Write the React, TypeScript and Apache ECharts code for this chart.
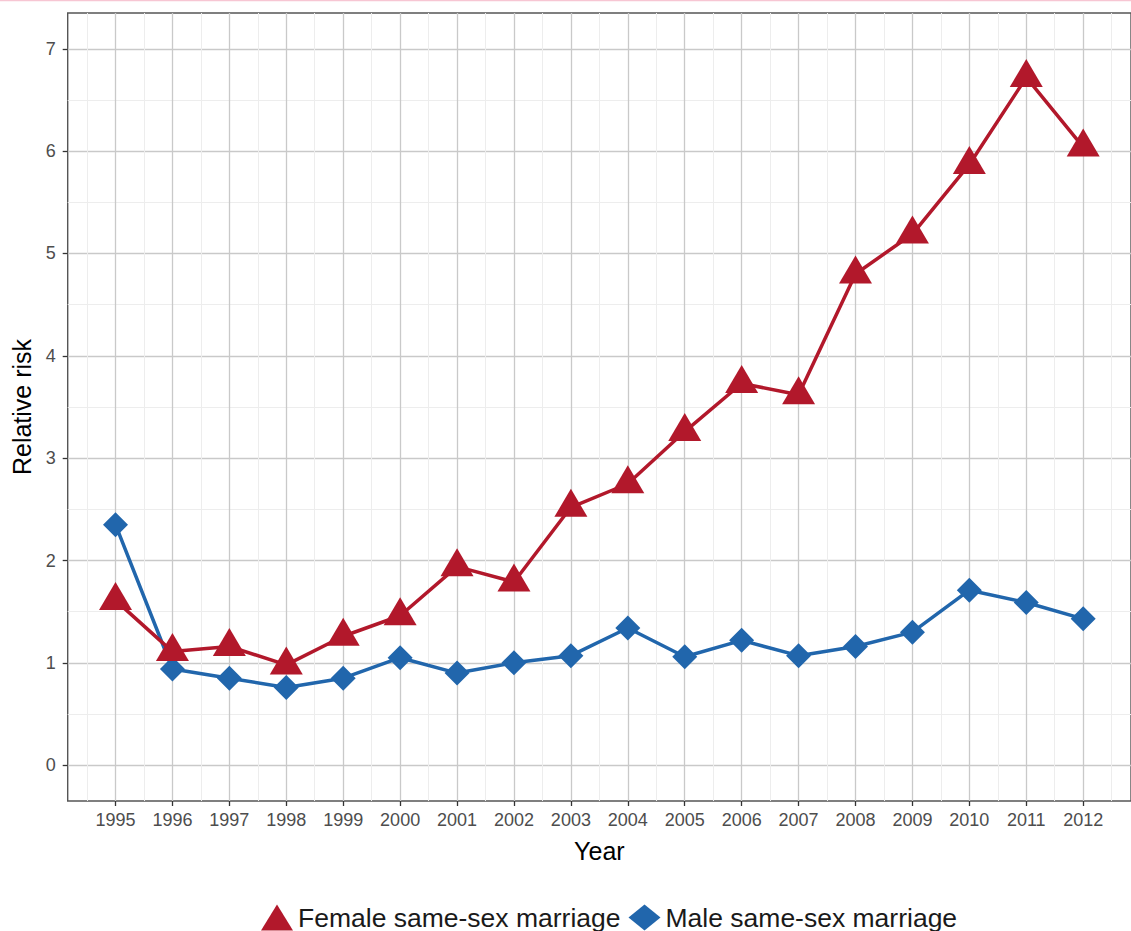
import React, { useEffect, useRef } from "react";
import * as echarts from "echarts";

const years = [1995, 1996, 1997, 1998, 1999, 2000, 2001, 2002, 2003, 2004, 2005, 2006, 2007, 2008, 2009, 2010, 2011, 2012];
const femaleRisk = [1.61, 1.11, 1.16, 0.98, 1.26, 1.46, 1.94, 1.79, 2.52, 2.75, 3.26, 3.73, 3.62, 4.8, 5.19, 5.87, 6.72, 6.04];
const maleRisk = [2.35, 0.94, 0.85, 0.76, 0.85, 1.05, 0.9, 1.0, 1.07, 1.34, 1.06, 1.22, 1.07, 1.16, 1.3, 1.71, 1.59, 1.43];
const yTicks = [0, 1, 2, 3, 4, 5, 6, 7];
const yMinorTicks = [0.5, 1.5, 2.5, 3.5, 4.5, 5.5, 6.5];
const xMinorTicks = [1994.5, 1995.5, 1996.5, 1997.5, 1998.5, 1999.5, 2000.5, 2001.5, 2002.5, 2003.5, 2004.5, 2005.5, 2006.5, 2007.5, 2008.5, 2009.5, 2010.5, 2011.5, 2012.5];
const femaleName = "Female same-sex marriage";
const maleName = "Male same-sex marriage";

const X_MIN = 1994.16;
const X_MAX = 2012.84;
const Y_MIN = -0.35;
const Y_MAX = 7.35;

export default function App() {
  const ref = useRef<HTMLDivElement>(null);
  useEffect(() => {
    const chart = echarts.init(ref.current!, null, { renderer: "svg" });
    const font = "'Liberation Sans', Arial, Helvetica, sans-serif";
    const major = "#c9c9c9";
    const minor = "#ededed";
    chart.setOption({
      animation: false,
      backgroundColor: "#ffffff",
      textStyle: { fontFamily: font },
      graphic: [
        {
          type: "line",
          shape: { x1: 0, y1: 0.5, x2: 1131, y2: 0.5 },
          style: { stroke: "#f7c6d3", lineWidth: 1.5 },
          silent: true,
        },
      ],
      grid: {
        left: 67.7,
        top: 13,
        width: 1072,
        height: 788,
        show: true,
        borderColor: "#555555",
        borderWidth: 1.4,
        backgroundColor: "transparent",
      },
      legend: {
        data: [
          { name: femaleName, icon: "triangle" },
          { name: maleName, icon: "diamond" },
        ],
        left: 256,
        top: 899,
        itemWidth: 32,
        itemHeight: 26,
        itemGap: 8,
        textStyle: { fontSize: 26.5, color: "#1a1a1a", fontFamily: font },
      },
      xAxis: [
        {
          type: "value",
          min: X_MIN,
          max: X_MAX,
          position: "bottom",
          name: "Year",
          nameLocation: "middle",
          nameGap: 37,
          nameTextStyle: { fontSize: 25, color: "#000000", fontFamily: font },
          axisLine: { show: false, onZero: false },
          axisTick: { show: true, customValues: years, length: 5, lineStyle: { color: "#333333", width: 1.3 } },
          axisLabel: {
            customValues: years,
            formatter: (v: number) => String(Math.round(v)),
            fontSize: 18,
            color: "#4d4d4d",
            margin: 10,
            fontFamily: font,
          },
          splitLine: { show: true, lineStyle: { color: major, width: 1.3 } },
        },
        {
          type: "value",
          min: X_MIN,
          max: X_MAX,
          position: "top",
          axisLine: { show: false, onZero: false },
          axisTick: { show: false, customValues: xMinorTicks },
          axisLabel: { show: false },
          splitLine: { show: true, lineStyle: { color: minor, width: 1 } },
        },
      ],
      yAxis: [
        {
          type: "value",
          min: Y_MIN,
          max: Y_MAX,
          position: "left",
          name: "Relative risk",
          nameLocation: "middle",
          nameGap: 33,
          nameRotate: 90,
          nameTextStyle: { fontSize: 25, color: "#000000", fontFamily: font },
          axisLine: { show: false, onZero: false },
          axisTick: { show: true, customValues: yTicks, length: 5, lineStyle: { color: "#333333", width: 1.3 } },
          axisLabel: {
            customValues: yTicks,
            formatter: (v: number) => String(Math.round(v)),
            fontSize: 18,
            color: "#4d4d4d",
            margin: 12,
            fontFamily: font,
          },
          splitLine: { show: true, lineStyle: { color: major, width: 1.3 } },
        },
        {
          type: "value",
          min: Y_MIN,
          max: Y_MAX,
          position: "right",
          axisLine: { show: false, onZero: false },
          axisTick: { show: false, customValues: yMinorTicks },
          axisLabel: { show: false },
          splitLine: { show: true, lineStyle: { color: minor, width: 1 } },
        },
      ],
      series: [
        {
          name: maleName,
          type: "line",
          xAxisIndex: 0,
          yAxisIndex: 0,
          data: years.map((y, i) => [y, maleRisk[i]]),
          symbol: "diamond",
          symbolSize: [25, 25],
          showAllSymbol: true,
          color: "#2166ac",
          lineStyle: { width: 3.5, color: "#2166ac" },
          itemStyle: { color: "#2166ac" },
          z: 3,
        },
        {
          name: femaleName,
          type: "line",
          xAxisIndex: 0,
          yAxisIndex: 0,
          data: years.map((y, i) => [y, femaleRisk[i]]),
          symbol: "triangle",
          symbolSize: [33, 28],
          symbolOffset: [0, -4.5],
          showAllSymbol: true,
          color: "#b2182b",
          lineStyle: { width: 3.5, color: "#b2182b" },
          itemStyle: { color: "#b2182b" },
          z: 4,
        },
      ],
    });
    return () => chart.dispose();
  }, []);
  return (
    <div
      ref={ref}
      style={{ position: "fixed", left: 0, top: 0, width: 1131, height: 931, background: "#fff" }}
    />
  );
}
